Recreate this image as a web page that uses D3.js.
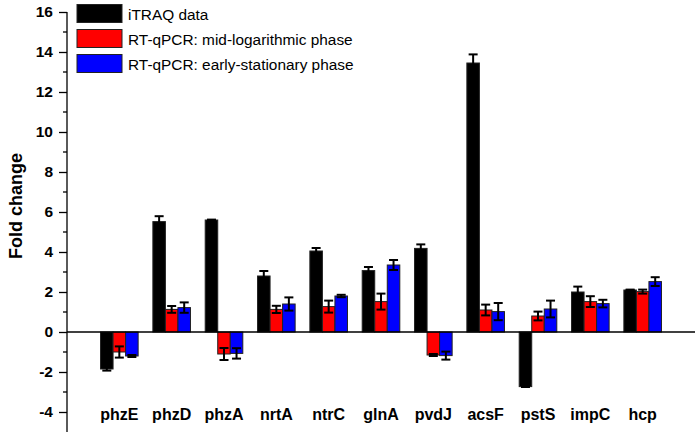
<!DOCTYPE html>
<html><head><meta charset="utf-8">
<script src="https://cdn.jsdelivr.net/npm/d3@7"></script>
<style>body{margin:0;background:#fff}svg{display:block}text{font-family:Arial,"Liberation Sans",sans-serif}</style>
</head><body><svg id="c" width="700" height="437"></svg>
<script>
const categories = ["phzE","phzD","phzA","nrtA","ntrC","glnA","pvdJ","acsF","pstS","impC","hcp"];
const seriesNames = ["iTRAQ data","RT-qPCR: mid-logarithmic phase","RT-qPCR: early-stationary phase"];
const seriesColors = ["#000000","#ff0000","#0000ff"];
const itraq    = [-1.85, 5.52, 5.6, 2.8, 4.05, 3.07, 4.18, 13.45, -2.73, 2.0, 2.1];
const itraqErr = [0.08, 0.27, 0.02, 0.25, 0.15, 0.18, 0.2, 0.43, 0.02, 0.27, 0.02];
const midLog    = [-1.0, 1.13, -1.1, 1.13, 1.27, 1.52, -1.15, 1.1, 0.8, 1.52, 2.02];
const midLogErr = [0.28, 0.17, 0.3, 0.18, 0.3, 0.4, 0.05, 0.27, 0.22, 0.27, 0.1];
const early    = [-1.2, 1.22, -1.07, 1.4, 1.8, 3.35, -1.18, 1.02, 1.15, 1.42, 2.52];
const earlyErr = [0.05, 0.26, 0.26, 0.33, 0.06, 0.25, 0.2, 0.43, 0.42, 0.19, 0.22];
const yTicks = [-4,-2,0,2,4,6,8,10,12,14,16];
const yMinor = [-3,-1,1,3,5,7,9,11,13,15];

const values = [itraq, midLog, early];
const errs = [itraqErr, midLogErr, earlyErr];

const svg = d3.select("#c");
const x = d3.scaleLinear().domain([0, categories.length + 1]).range([67, 695]);
const y = d3.scaleLinear().domain([-5, 16]).range([432, 12]);
const sub = d3.scaleBand().domain([0,1,2]).range([-18.8, 18.8]).padding(0);

// bars
values.forEach((vals, s) => {
  const g = svg.append("g");
  g.selectAll("rect").data(vals).join("rect")
    .attr("x", (d,i) => x(i+1) + sub(s))
    .attr("width", sub.bandwidth())
    .attr("y", d => y(Math.max(0,d)))
    .attr("height", d => Math.abs(y(d) - y(0)))
    .attr("fill", seriesColors[s])
    .attr("stroke", "#222").attr("stroke-width", 1);
});
// error bars
values.forEach((vals, s) => {
  const g = svg.append("g").attr("stroke", "#000").attr("stroke-width", 2);
  vals.forEach((d, i) => {
    const cx = x(i+1) + sub(s) + sub.bandwidth()/2;
    const e = errs[s][i];
    g.append("line").attr("x1", cx).attr("x2", cx).attr("y1", y(d+e)).attr("y2", y(d-e));
    g.append("line").attr("x1", cx-4.5).attr("x2", cx+4.5).attr("y1", y(d+e)).attr("y2", y(d+e));
    g.append("line").attr("x1", cx-4.5).attr("x2", cx+4.5).attr("y1", y(d-e)).attr("y2", y(d-e));
  });
});

// zero line
svg.append("line").attr("x1", x(0)).attr("x2", x(categories.length+1))
  .attr("y1", y(0)).attr("y2", y(0)).attr("stroke", "#000").attr("stroke-width", 1.3);

// y axis
const yAxis = d3.axisLeft(y).tickValues(yTicks).tickSize(8).tickPadding(6).tickFormat(d => String(d));
const ga = svg.append("g").attr("transform", `translate(${x(0)},0)`).call(yAxis);
ga.select(".domain").attr("d", `M0,${y(16)}V${y(-5)}`).attr("stroke-width", 1.3);
ga.selectAll(".tick line").attr("stroke-width", 1.3);
ga.selectAll(".tick text").attr("font-size", 15.5).attr("font-weight", "bold").attr("font-family", "Arial, 'Liberation Sans', sans-serif").attr("fill", "#000");
svg.append("g").selectAll("line").data(yMinor).join("line")
  .attr("x1", x(0)-4).attr("x2", x(0)).attr("y1", d => y(d)).attr("y2", d => y(d))
  .attr("stroke", "#000").attr("stroke-width", 1.3);

// category labels
svg.append("g").selectAll("text").data(categories).join("text")
  .attr("x", (d,i) => x(i+1)).attr("y", 419.5)
  .attr("text-anchor", "middle").attr("font-size", 16).attr("font-weight", "bold")
  .text(d => d);

// y label
svg.append("text").attr("transform", "translate(22,206) rotate(-90)")
  .attr("text-anchor", "middle").attr("font-size", 18).attr("font-weight", "bold").text("Fold change");

// legend
const lg = svg.append("g");
seriesNames.forEach((n, s) => {
  lg.append("rect").attr("x", 77).attr("y", 4.5 + s*25).attr("width", 45).attr("height", 18)
    .attr("fill", seriesColors[s]).attr("stroke", "#222").attr("stroke-width", 1);
  lg.append("text").attr("x", 128).attr("y", 19.5 + s*25).attr("font-size", 15.4).text(n);
});
</script></body></html>
